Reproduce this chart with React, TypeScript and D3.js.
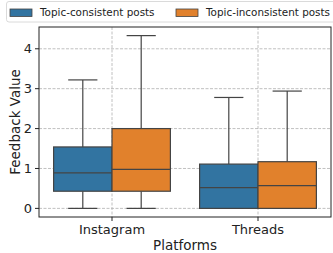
import React from 'react';
import * as d3 from 'd3';

const platforms = ['Instagram', 'Threads'];
const groups = ['Topic-consistent posts', 'Topic-inconsistent posts'];
const colors = ['#3274a1', '#e1812c'];
// [whiskerLow, q1, median, q3, whiskerHigh] per platform per group
const consistentStats = [
  [0, 0.43, 0.89, 1.54, 3.22],
  [0, 0, 0.52, 1.11, 2.78],
];
const inconsistentStats = [
  [0, 0.43, 0.98, 2.0, 4.33],
  [0, 0, 0.57, 1.17, 2.94],
];
const yTicks = [0, 1, 2, 3, 4];

const W = 333;
const H = 253;
const margin = { left: 39, right: 2, top: 27, bottom: 36 };
const font = 'DejaVu Sans, sans-serif';

const App = () => {
  const x0 = margin.left;
  const x1 = W - margin.right;
  const y0 = H - margin.bottom;
  const y1 = margin.top;

  const x = d3.scaleLinear().domain([-0.5, 1.5]).range([x0, x1]);
  const y = d3.scaleLinear().domain([-0.216, 4.546]).range([y0, y1]);
  const allStats = [consistentStats, inconsistentStats];
  const boxW = 0.4;
  const lineCol = '#444';

  return (
    <svg width={W} height={H} style={{ position: 'absolute', left: 0, top: 0 }} fontFamily={font}>
      <rect x={0} y={0} width={W} height={H} fill="#fff" />
      {/* grid */}
      {yTicks.map(t => (
        <line key={'gy' + t} x1={x0} x2={x1} y1={y(t)} y2={y(t)} stroke="#b0b0b0" strokeWidth={0.8} strokeDasharray="3,1.5" />
      ))}
      {platforms.map((p, i) => (
        <line key={'gx' + p} x1={x(i)} x2={x(i)} y1={y1} y2={y0} stroke="#b0b0b0" strokeWidth={0.8} strokeDasharray="3,1.5" />
      ))}
      {/* boxes */}
      {allStats.map((stats, g) =>
        stats.map((s, i) => {
          const left = x(i - 0.4 + g * boxW);
          const right = x(i - 0.4 + (g + 1) * boxW);
          const cx = (left + right) / 2;
          const capHalf = (right - left) / 4;
          const [lo, q1, med, q3, hi] = s;
          return (
            <g key={g + '-' + i}>
              <line x1={cx} x2={cx} y1={y(q3)} y2={y(hi)} stroke={lineCol} strokeWidth={1.2} />
              <line x1={cx} x2={cx} y1={y(q1)} y2={y(lo)} stroke={lineCol} strokeWidth={1.2} />
              <line x1={cx - capHalf} x2={cx + capHalf} y1={y(hi)} y2={y(hi)} stroke={lineCol} strokeWidth={1.2} />
              <line x1={cx - capHalf} x2={cx + capHalf} y1={y(lo)} y2={y(lo)} stroke={lineCol} strokeWidth={1.2} />
              <rect x={left} y={y(q3)} width={right - left} height={y(q1) - y(q3)} fill={colors[g]} stroke={lineCol} strokeWidth={1.2} />
              <line x1={left} x2={right} y1={y(med)} y2={y(med)} stroke={lineCol} strokeWidth={1.2} />
            </g>
          );
        })
      )}
      {/* frame */}
      <rect x={x0} y={y1} width={x1 - x0} height={y0 - y1} fill="none" stroke="#222" strokeWidth={1} />
      {/* y ticks */}
      {yTicks.map(t => (
        <g key={'yt' + t}>
          <line x1={x0 - 4} x2={x0} y1={y(t)} y2={y(t)} stroke="#222" strokeWidth={1} />
          <text x={x0 - 7} y={y(t)} dy="0.36em" textAnchor="end" fontSize={13} fill="#222">{t}</text>
        </g>
      ))}
      {/* x ticks */}
      {platforms.map((p, i) => (
        <g key={'xt' + p}>
          <line x1={x(i)} x2={x(i)} y1={y0} y2={y0 + 4} stroke="#222" strokeWidth={1} />
          <text x={x(i)} y={y0 + 17} textAnchor="middle" fontSize={13} fill="#222">{p}</text>
        </g>
      ))}
      <text x={(x0 + x1) / 2} y={250} textAnchor="middle" fontSize={13.5} fill="#222">Platforms</text>
      <text transform={`translate(20,${(y0 + y1) / 2}) rotate(-90)`} textAnchor="middle" fontSize={13.5} fill="#222">Feedback Value</text>
      {/* legend */}
      <rect x={6.5} y={1.5} width={340} height={20.5} rx={2.5} fill="#fff" fillOpacity={0.8} stroke="#d0d0d0" strokeWidth={0.8} />
      {groups.map((g, i) => {
        const lx = i === 0 ? 10 : 176;
        return (
          <g key={'lg' + g}>
            <rect x={lx} y={9} width={22} height={7.5} fill={colors[i]} stroke={lineCol} strokeWidth={0.8} />
            <text x={lx + 30} y={16} fontSize={10.4} fill="#222">{g}</text>
          </g>
        );
      })}
    </svg>
  );
};

export default App;
